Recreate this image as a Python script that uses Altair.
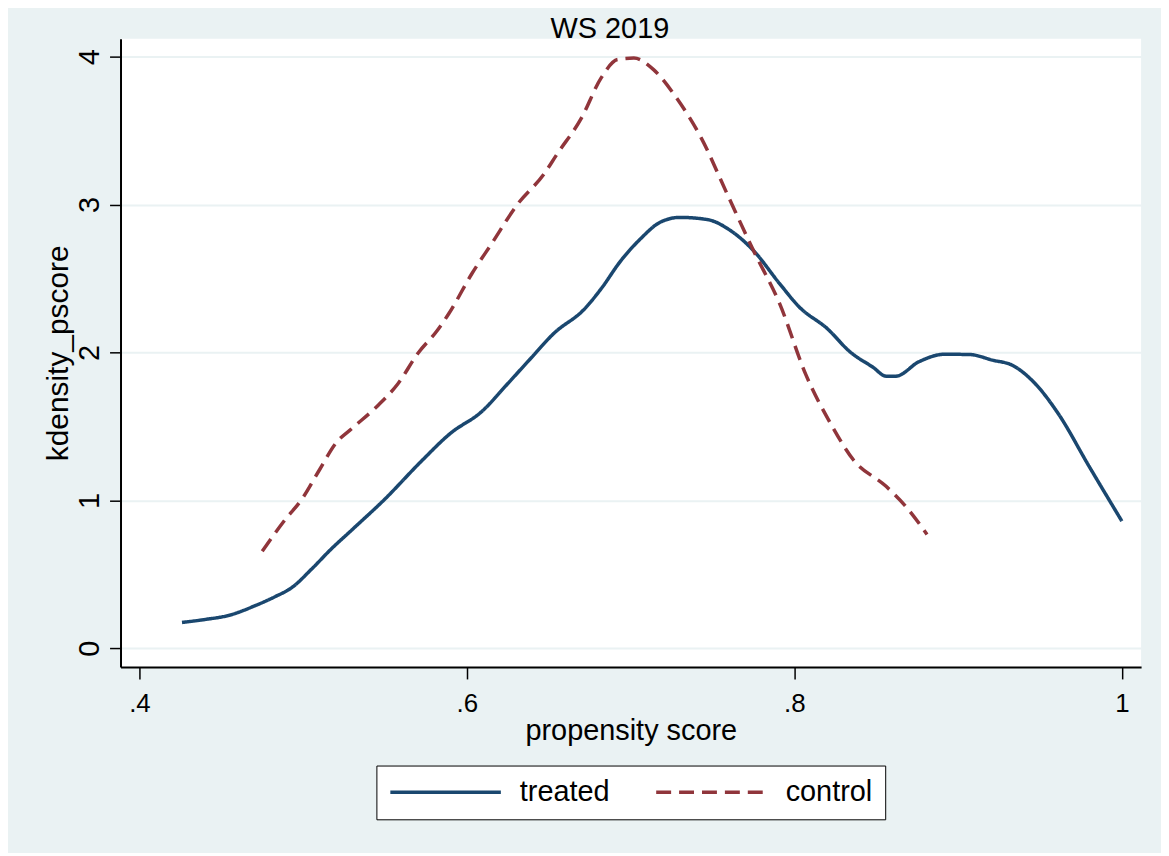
import altair as alt
import pandas as pd

# ---- data ----
treated_x = [0.426, 0.440, 0.455, 0.471, 0.483, 0.493, 0.505, 0.517, 0.530, 0.550,
             0.572, 0.590, 0.609, 0.625, 0.638, 0.653, 0.672, 0.682, 0.694, 0.706,
             0.718, 0.730, 0.747, 0.761, 0.775, 0.791, 0.803, 0.820, 0.834, 0.848,
             0.856, 0.862, 0.876, 0.892, 0.907, 0.921, 0.933, 0.947, 0.961, 0.980, 1.000]
treated_y = [0.175, 0.195, 0.224, 0.290, 0.350, 0.410, 0.534, 0.670, 0.803, 1.010,
             1.263, 1.454, 1.600, 1.790, 1.948, 2.128, 2.296, 2.431, 2.620, 2.768,
             2.880, 2.913, 2.898, 2.824, 2.689, 2.465, 2.307, 2.162, 2.004, 1.900,
             1.840, 1.840, 1.937, 1.988, 1.986, 1.948, 1.914, 1.790, 1.589, 1.230, 0.860]

control_x = [0.475, 0.489, 0.499, 0.510, 0.520, 0.530, 0.546, 0.558, 0.570, 0.582,
             0.589, 0.603, 0.615, 0.631, 0.647, 0.655, 0.670, 0.682, 0.692, 0.702,
             0.714, 0.728, 0.743, 0.759, 0.775, 0.791, 0.807, 0.822, 0.836, 0.856,
             0.868, 0.881]
control_y = [0.657, 0.870, 1.005, 1.207, 1.387, 1.488, 1.645, 1.790, 1.993, 2.150,
             2.263, 2.532, 2.734, 3.003, 3.205, 3.340, 3.586, 3.856, 3.980, 3.990,
             3.912, 3.721, 3.452, 3.070, 2.689, 2.330, 1.850, 1.522, 1.275, 1.095,
             0.960, 0.770]

groups = ["treated", "control"]
x_ticks = [0.4, 0.6, 0.8, 1.0]
y_ticks = [0, 1, 2, 3, 4]

rows = []
for i, (xv, yv) in enumerate(zip(treated_x, treated_y)):
    rows.append({"group": "treated", "x": xv, "y": yv, "order": i})
for i, (xv, yv) in enumerate(zip(control_x, control_y)):
    rows.append({"group": "control", "x": xv, "y": yv, "order": i})
df = pd.DataFrame(rows)

FONT = "Liberation Sans"
BG = "#EAF2F3"


def make_legend():
    return alt.Legend(orient="none", legendX=257, legendY=730,
                      direction="horizontal", columns=2, title=None,
                      symbolType="stroke", symbolSize=12321, clipHeight=29,
                      symbolStrokeWidth=3.5, labelFontSize=29,
                      labelOffset=17, columnPadding=44, padding=12,
                      strokeColor="black", fillColor="white",
                      labelLimit=0)


chart = alt.Chart(df).mark_line(strokeWidth=3.5, interpolate="monotone").encode(
    x=alt.X("x:Q",
            scale=alt.Scale(domain=[0.38845, 1.01174], nice=False, zero=False),
            axis=alt.Axis(values=x_ticks, title="propensity score",
                          labelExpr="datum.value == 1 ? '1' : replace(format(datum.value, '.1f'), '0.', '.')",
                          grid=False, labelFontSize=26, labelBaseline="alphabetic",
                          labelPadding=33, tickSize=12, labelFlush=False, labelOverlap=False,
                          titleFontSize=29, titleBaseline="alphabetic", titleY=72.5)),
    y=alt.Y("y:Q",
            scale=alt.Scale(domain=[-0.126, 4.121], nice=False, zero=False),
            axis=alt.Axis(values=y_ticks, format="d", title="kdensity_pscore",
                          grid=True, gridColor=BG, gridWidth=2,
                          labelAngle=270, labelAlign="center", labelBaseline="alphabetic",
                          labelFontSize=29, labelPadding=11, tickSize=11,
                          labelFlush=False, labelOverlap=False,
                          titleFontSize=30, titleAngle=270, titleAlign="center",
                          titleBaseline="alphabetic", titleX=-53, titleY=315.5)),
    color=alt.Color("group:N",
                    scale=alt.Scale(domain=groups, range=["#1a476f", "#90353b"]),
                    legend=make_legend()),
    strokeDash=alt.StrokeDash("group:N",
                              scale=alt.Scale(domain=groups, range=[[1, 0], [15, 8]]),
                              legend=make_legend()),
    order="order:Q",
).properties(
    width=1025,
    height=631,
    title=alt.TitleParams("WS 2019", fontSize=29, font=FONT, fontWeight="normal",
                          color="black", anchor="middle", dx=-21, dy=29,
                          baseline="alphabetic", offset=1),
    autosize=alt.AutoSizeParams(type="none"),
    padding={"left": 113, "top": 29, "right": 20, "bottom": 185},
    background=BG,
).configure_view(
    fill="white", stroke=None
).configure_axis(
    domainColor="black", domainWidth=2, tickColor="black", tickWidth=1.5,
    labelColor="black", titleColor="black", labelFont=FONT, titleFont=FONT,
    titleFontWeight="normal"
).configure_legend(
    labelFont=FONT, labelColor="black"
)

chart.save("out.html", embed_options={"renderer": "svg", "actions": False})
